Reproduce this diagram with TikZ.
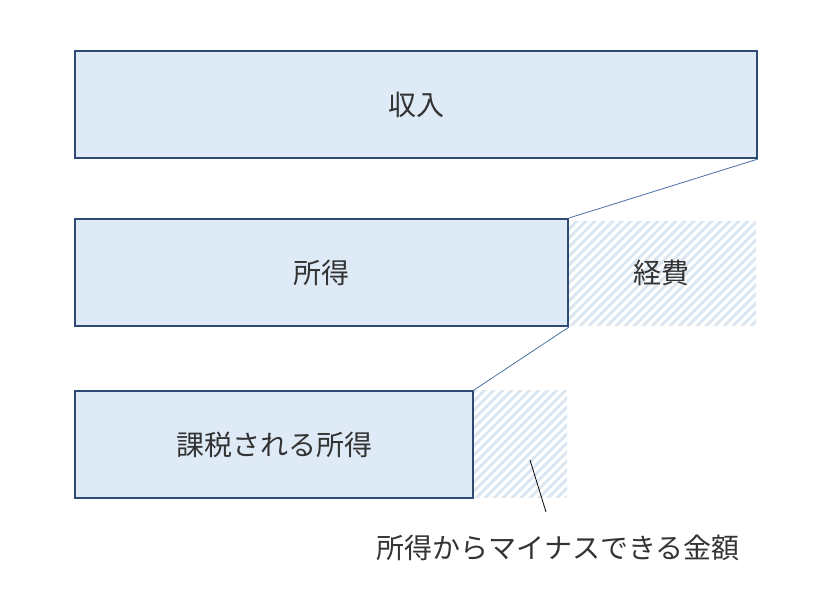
\documentclass[tikz,border=0pt]{standalone}
\usepackage{fontspec}
\setmainfont{Noto Sans CJK JP}
\definecolor{boxfill}{HTML}{DEEAF6}
\definecolor{boxdraw}{HTML}{2F4A75}
\definecolor{hatch}{HTML}{DCE6F1}
\definecolor{conn}{HTML}{4A6FA5}
\definecolor{txt}{HTML}{333333}
\tikzset{
  bar/.style={draw=boxdraw, line width=1.5pt, fill=boxfill, anchor=north west, inner sep=0pt, text=txt, font=\fontsize{21}{24}\selectfont},
  conline/.style={draw=conn, line width=0.6pt},
}
\begin{document}
\begin{tikzpicture}[x=0.75pt,y=-0.75pt]
\useasboundingbox (0,0) rectangle (814,596);
% hatched areas
\begin{scope}
\clip (567,221) rectangle (756,325);
\foreach \i in {-20,...,40} {
  \draw[hatch, line width=2.2pt] (567+\i*9,330) -- ++(120,-120);
}
\end{scope}
\begin{scope}
\clip (472,390) rectangle (567,497);
\foreach \i in {-20,...,20} {
  \draw[hatch, line width=2.2pt] (472+\i*9,502) -- ++(120,-120);
}
\end{scope}
\node[bar, minimum width=682*0.75pt, minimum height=107*0.75pt] (inc) at (74,50) {収入};
\node[bar, minimum width=493*0.75pt, minimum height=107*0.75pt] (sho) at (74,218) {所得};
\node[bar, minimum width=398*0.75pt, minimum height=107*0.75pt] (kaz) at (74,390) {課税される所得};
\node[text=txt, font=\fontsize{21}{24}\selectfont] (kei) at (661,273) {経費};
\node[text=txt, font=\fontsize{21}{24}\selectfont, inner sep=0pt] (lab) at (558,548) {所得からマイナスできる金額};
\coordinate (lt) at (530,460);
\coordinate (lb) at (546,512);
\draw[conline] (inc.south east) -- (sho.north east);
\draw[conline] (sho.south east) -- (kaz.north east);
\draw[black, line width=0.6pt] (lt) -- (lb);
\end{tikzpicture}
\end{document}
